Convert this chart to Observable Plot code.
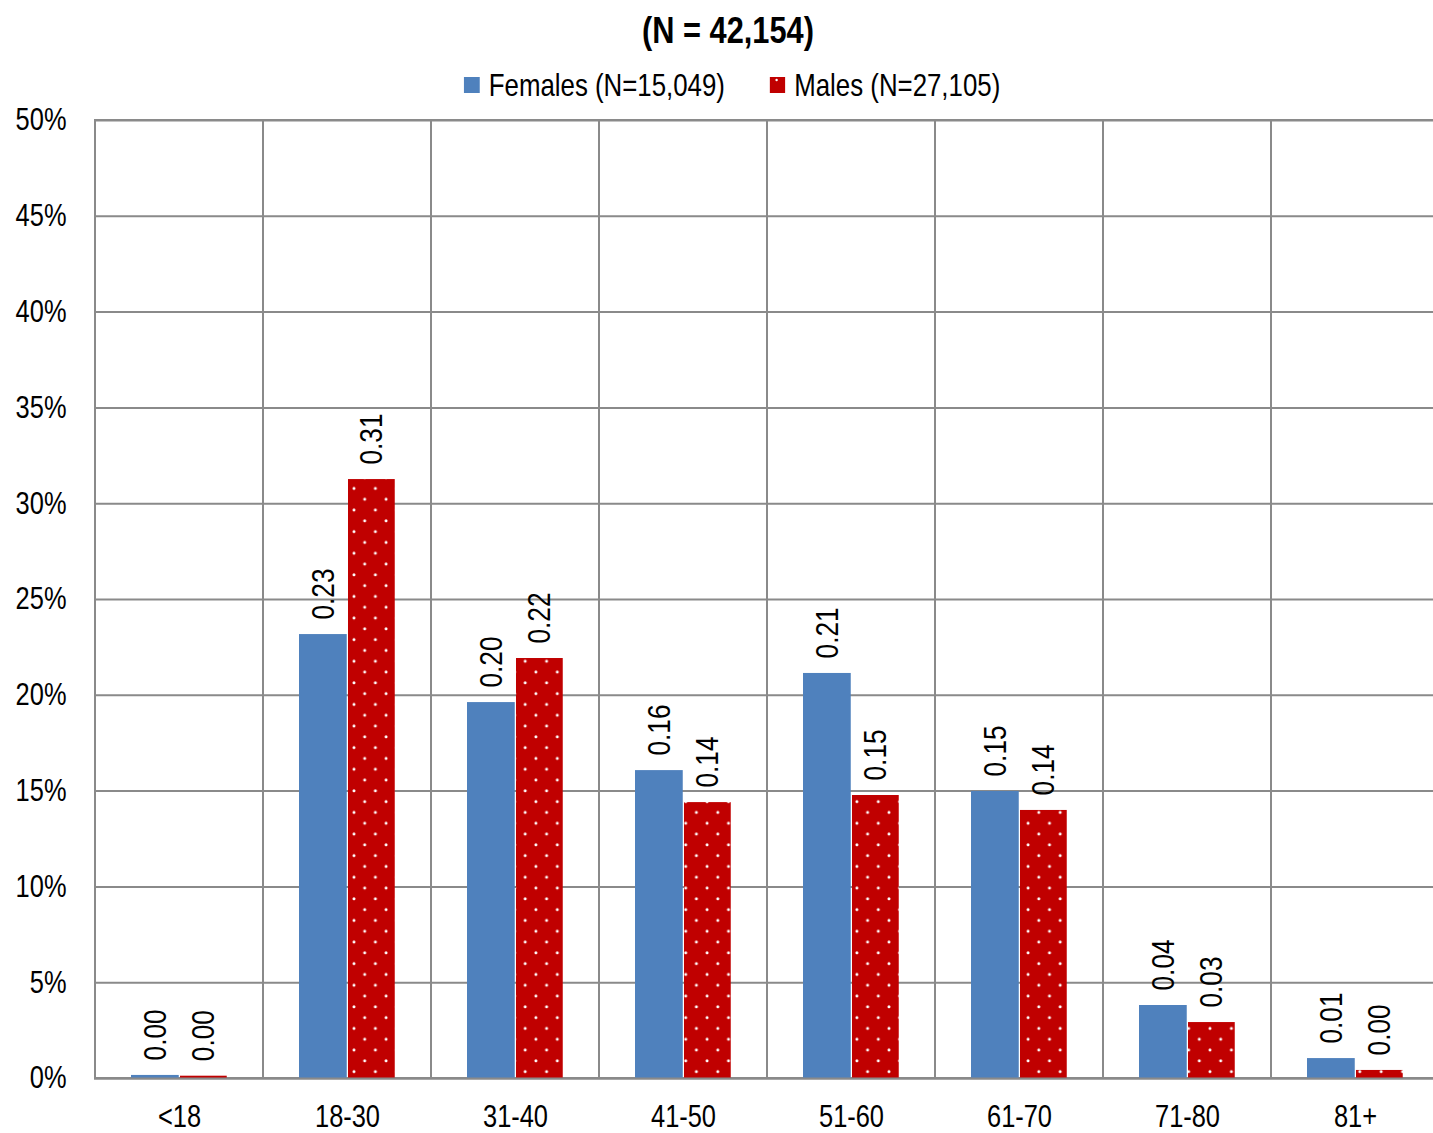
<!DOCTYPE html>
<html>
<head>
<meta charset="utf-8">
<script src="https://cdn.jsdelivr.net/npm/d3@7"></script>
<script src="https://cdn.jsdelivr.net/npm/@observablehq/plot@0.6"></script>
<style>
  body { margin: 0; background: #fff; font-family: "Liberation Sans", Arial, sans-serif; }
  #wrap { position: relative; width: 1433px; height: 1133px; overflow: hidden; }
  #header { position: relative; height: 90px; }
  #title { position: absolute; left: 728px; top: 8px; transform: translateX(-50%) scaleX(0.82); font-weight: bold; font-size: 37.5px; white-space: nowrap; line-height: 44px; }
  #legend { position: absolute; left: 731.5px; top: 66px; transform: translateX(-50%) scaleX(0.82); display: flex; align-items: center; white-space: nowrap; font-size: 31.5px; line-height: 38px; }
  .item { display: flex; align-items: center; }
  .sw { width: 19.5px; height: 16px; margin-right: 11px; display: inline-block; }
  .gap { width: 54px; }
  #chart { width: 1440px; }
  #chart svg { display: block; max-width: none !important; width: 1440px; }
</style>
</head>
<body>
<div id="wrap">
  <div id="header">
    <div id="title">(N = 42,154)</div>
    <div id="legend"></div>
  </div>
  <div id="chart"></div>
</div>
<script>
const categories = ["<18", "18-30", "31-40", "41-50", "51-60", "61-70", "71-80", "81+"];
const females = [0.0016, 0.2317, 0.1962, 0.1607, 0.2114, 0.1498, 0.0381, 0.0104];
const males = [0.0012, 0.3126, 0.2192, 0.1440, 0.1477, 0.1399, 0.0292, 0.0042];
const seriesNames = ["Females (N=15,049)", "Males (N=27,105)"];
const yTicks = [0, 0.05, 0.10, 0.15, 0.20, 0.25, 0.30, 0.35, 0.40, 0.45, 0.50];

const blue = "#4F81BD";
const red = "#C00000";
const gridColor = "#8A8A8A";
const narrow = 0.82; // emulate a narrow face

const femaleRows = categories.map((c, i) => ({category: c, value: females[i]}));
const maleRows = categories.map((c, i) => ({category: c, value: males[i]}));
const fmt = d => d.value.toFixed(2);

// legend
const legend = document.getElementById("legend");
legend.innerHTML = `
  <span class="item"><svg class="sw" viewBox="0 0 16 16" preserveAspectRatio="none"><rect width="16" height="16" fill="${blue}"/></svg>${seriesNames[0]}</span>
  <span class="gap"></span>
  <span class="item"><svg class="sw" viewBox="0 0 16 16" preserveAspectRatio="none"><rect width="16" height="16" fill="${red}"/><circle cx="7" cy="3" r="1.2" fill="#fff"/></svg>${seriesNames[1]}</span>`;

const labelFont = 32;

const svg = Plot.plot({
  width: 1440,
  height: 1043,
  marginTop: 30,
  marginBottom: 55,
  marginLeft: 94,
  marginRight: 0,
  style: {fontFamily: '"Liberation Sans", Arial, sans-serif', fontSize: "31px", color: "#000", background: "#fff", overflow: "visible"},
  x: {type: "band", domain: categories, padding: 0, label: null},
  y: {domain: [0, 0.5], label: null},
  marks: [
    Plot.gridY(yTicks, {stroke: gridColor, strokeOpacity: 1, strokeWidth: 2}),
    Plot.barY(categories, {x: d => d, y1: 0, y2: 0.5, fill: "none", stroke: gridColor, strokeWidth: 2}),
    Plot.barY(femaleRows, {x: "category", y: "value", fill: blue, insetLeft: 36, insetRight: 84.25}),
    Plot.barY(maleRows, {x: "category", y: "value", fill: "url(#dots)", insetLeft: 85, insetRight: 36.25}),
    Plot.ruleY([0], {stroke: gridColor, strokeWidth: 2}),
    Plot.text(femaleRows, {x: "category", y: "value", text: fmt, rotate: -90, textAnchor: "start", dx: -24, dy: -15, fontSize: labelFont, fill: "#000"}),
    Plot.text(maleRows, {x: "category", y: "value", text: fmt, rotate: -90, textAnchor: "start", dx: 24, dy: -15, fontSize: labelFont, fill: "#000"}),
    Plot.axisY(yTicks, {tickFormat: d3.format(".0%"), tickSize: 0, tickPadding: 28, fontSize: 31, label: null}),
    Plot.axisX({tickSize: 0, tickPadding: 26, fontSize: 31, label: null})
  ]
});

const ns = "http://www.w3.org/2000/svg";
const defs = document.createElementNS(ns, "defs");
defs.innerHTML = `
  <pattern id="dots" patternUnits="userSpaceOnUse" width="21.4" height="21.6" x="354" y="0">
    <rect width="21.4" height="21.6" fill="${red}"/>
    <circle cx="0" cy="9.5" r="1.5" fill="#fff"/>
    <circle cx="21.4" cy="9.5" r="1.5" fill="#fff"/>
    <circle cx="10.7" cy="20.3" r="1.5" fill="#fff"/>
    <circle cx="10.7" cy="-1.3" r="1.5" fill="#fff"/>
  </pattern>`;
svg.insertBefore(defs, svg.firstChild);
document.getElementById("chart").appendChild(svg);

// condense all chart texts horizontally (along their reading direction)
svg.querySelectorAll("text").forEach(t => {
  const len = t.getComputedTextLength();
  if (len > 0) {
    t.setAttribute("textLength", (len * narrow).toFixed(2));
    t.setAttribute("lengthAdjust", "spacingAndGlyphs");
  }
});
</script>
</body>
</html>
